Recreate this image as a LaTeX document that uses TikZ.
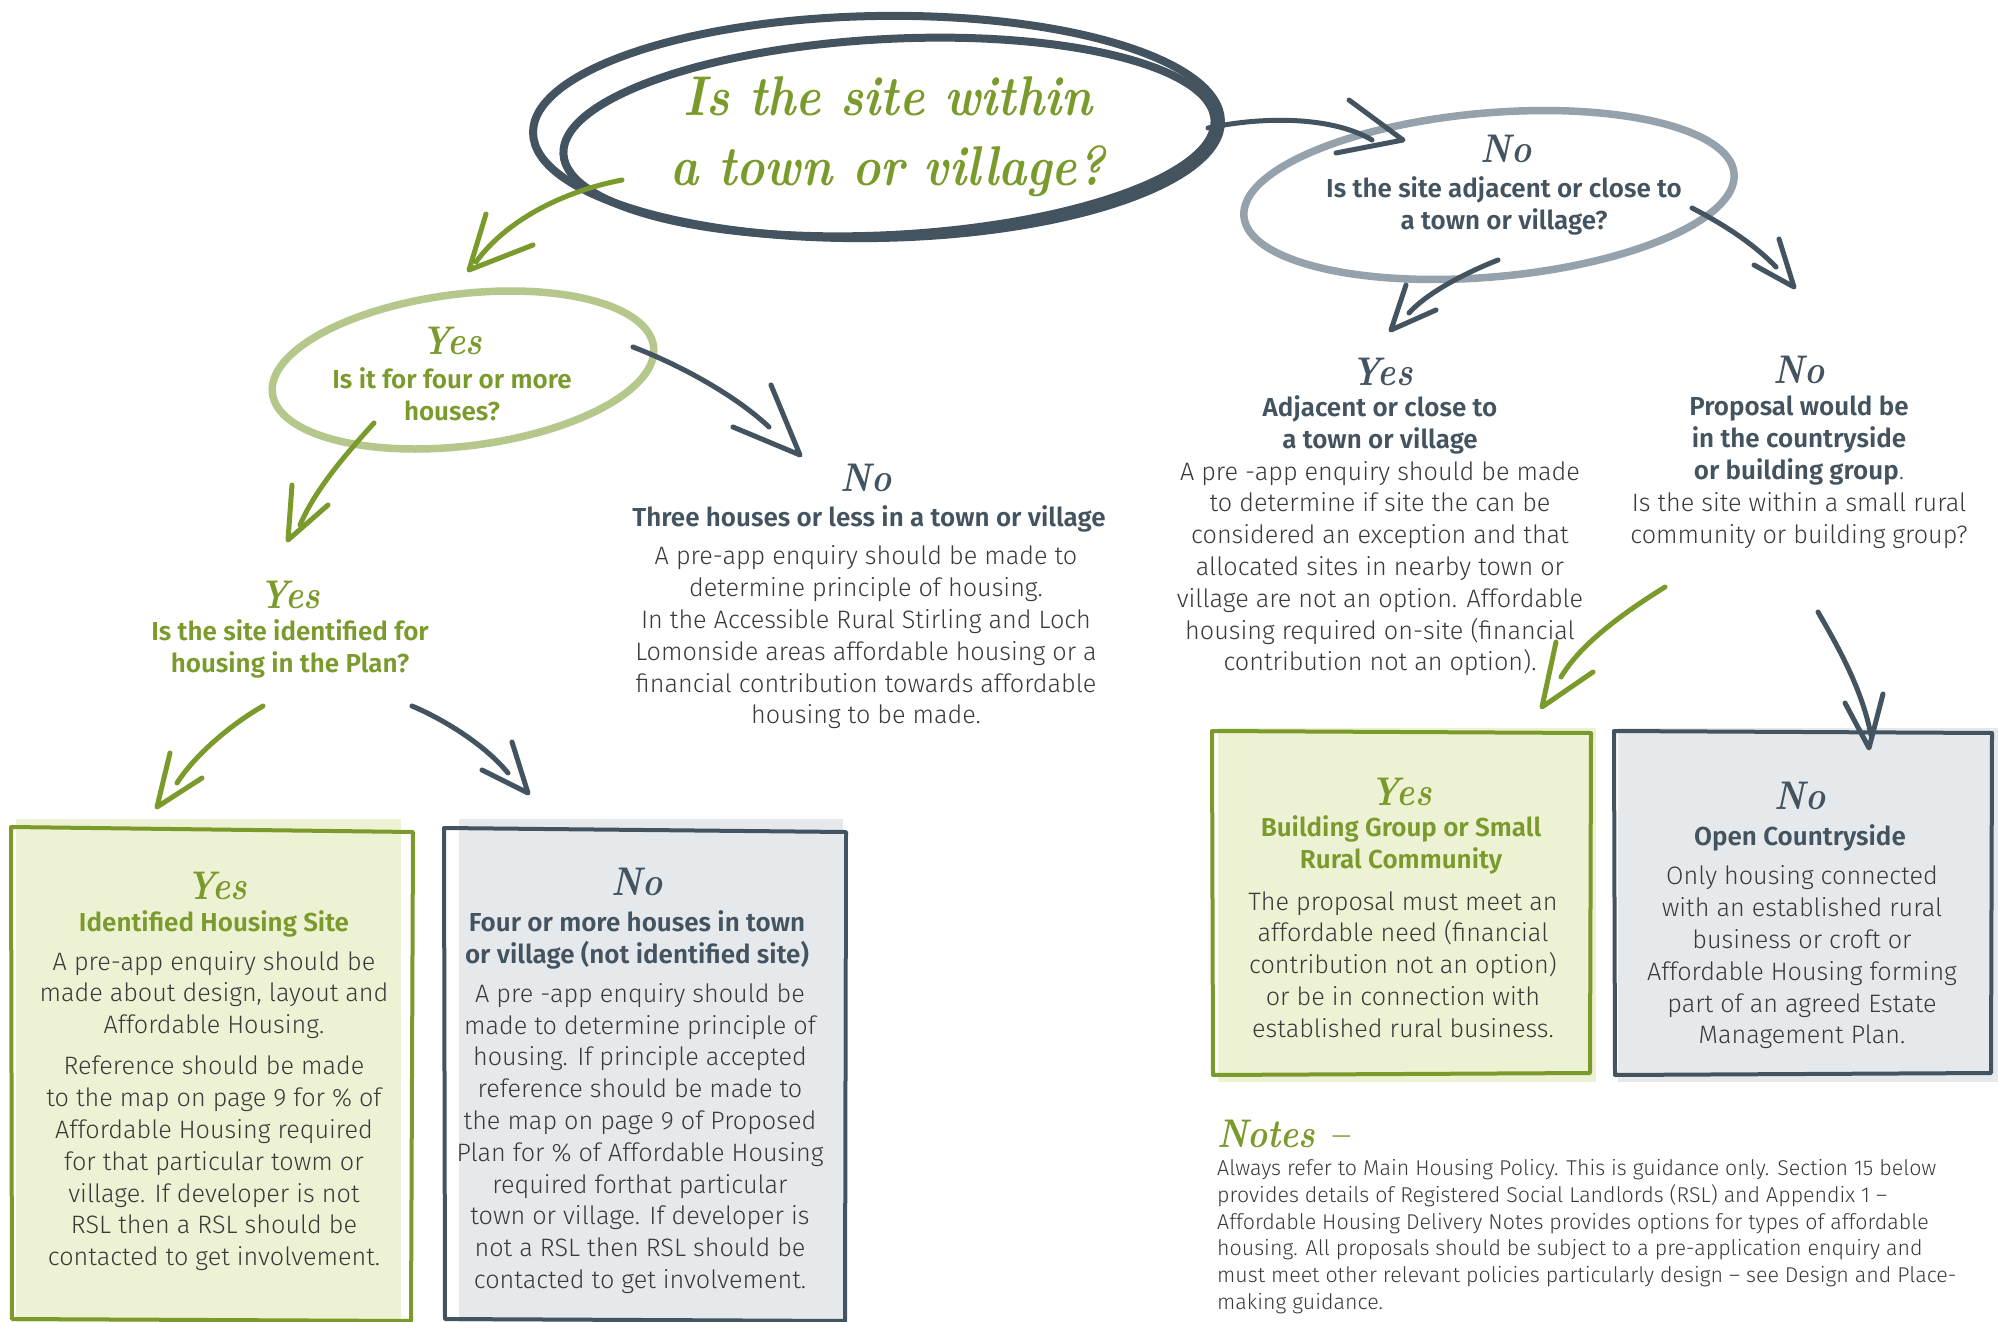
\documentclass[tikz,border=0pt]{standalone}
\usepackage{fontspec}
\usetikzlibrary{arrows.meta}
\IfFontExistsTF{Fira Sans Light}{\newfontfamily\bodyfont{Fira Sans Light}}{\newfontfamily\bodyfont{Fira Sans}}
\IfFontExistsTF{Fira Sans SemiBold}{\newfontfamily\headfont{Fira Sans SemiBold}}{\newfontfamily\headfont{Fira Sans Bold}}
\newfontfamily\handfont{lmroman10-bolditalic}[Extension=.otf, FakeStretch=0.85]
\definecolor{slate}{HTML}{435460}
\definecolor{leaf}{HTML}{7A9A2B}
\definecolor{leaflight}{HTML}{B5C78B}
\definecolor{greyring}{HTML}{95A2AC}
\definecolor{greenfill}{HTML}{EEF2D4}
\definecolor{greyfill}{HTML}{E5E9EC}
\definecolor{txt}{HTML}{3A3A3A}
\tikzset{
  bodytext/.style={font=\bodyfont\fontsize{25.2}{31.8}\selectfont, text=txt, align=center, inner sep=0pt},
  notetext/.style={font=\bodyfont\fontsize{21.4}{26.7}\selectfont, text=txt, align=left, inner sep=0pt},
  headg/.style={font=\headfont\fontsize{26}{32}\selectfont, text=leaf, align=center, inner sep=0pt},
  heads/.style={font=\headfont\fontsize{26}{32}\selectfont, text=slate, align=center, inner sep=0pt},
  handg/.style={font=\handfont\fontsize{40}{40}\selectfont, text=leaf, inner sep=0pt},
  hands/.style={font=\handfont\fontsize{40}{40}\selectfont, text=slate, inner sep=0pt},
  shaft/.style={line width=5pt, line cap=round},
  chev/.style={line width=5pt, line cap=round, line join=round},
  ringline/.style={line width=7.5pt},
  boxline/.style={line width=4pt, line join=round, line cap=round},
}
\begin{document}
\begin{tikzpicture}[x=1pt, y=-1pt]
\useasboundingbox (0,0) rectangle (1998,1322);
\fill[white] (0,0) rectangle (1998,1322);

% ---------- rings ----------
\begin{scope}[shift={(877,127)}, rotate=1]
  \draw[slate, line width=8pt] (0,0) ellipse [x radius=344, y radius=111];
\end{scope}
\begin{scope}[shift={(889,137)}, rotate=3]
  \draw[slate, line width=8pt] (0,0) ellipse [x radius=326, y radius=98];
\end{scope}
\begin{scope}[shift={(463,370)}, rotate=7]
  \draw[leaflight, ringline] (0,0) ellipse [x radius=192, y radius=76];
\end{scope}
\begin{scope}[shift={(1489,195)}, rotate=5]
  \draw[greyring, ringline] (0,0) ellipse [x radius=246, y radius=82];
\end{scope}

% ---------- boxes ----------
\fill[greenfill] (16,819) rectangle (401,1322);
\draw[leaf, boxline] (11,827) -- (413,832) -- (411,1321) -- (12,1319) -- cycle;
\fill[greyfill] (459,819) rectangle (843,1322);
\draw[slate, boxline] (444,828) -- (846,832) -- (845,1321) -- (445,1319) -- cycle;
\fill[greenfill] (1218,728) rectangle (1596,1082);
\draw[leaf, boxline] (1212,731) -- (1591,733) -- (1590,1073) -- (1213,1075) -- cycle;
\fill[greyfill] (1618,728) rectangle (1998,1082);
\draw[slate, boxline] (1614,731) -- (1992,733) -- (1991,1073) -- (1615,1075) -- cycle;

% ---------- texts ----------
\node[handg, font=\handfont\fontsize{56}{70}\selectfont, align=center] (q0) at (888,137) {Is the site within\\a town or village?};

\node[handg] (y1) at (452,341) {Yes};
\node[headg] (q1) at (452,394) {Is it for four or more\\houses?};

\node[hands] (n1) at (866,478) {No};
\node[heads] (h1) at (869,519) {Three houses or less in a town or village};
\node[bodytext] (b1) at (866,637.5) {A pre-app enquiry should be made to\\determine principle of housing.\\In the Accessible Rural Stirling and Loch\\Lomonside areas affordable housing or a\\financial contribution towards affordable\\housing to be made.};

\node[handg] (y2) at (290,595) {Yes};
\node[headg] (q2) at (290,649) {Is the site identified for\\housing in the Plan?};

\node[handg] (y3) at (217,886) {Yes};
\node[headg] (h3) at (214,924) {Identified Housing Site};
\node[bodytext] (b3a) at (214,995) {A pre-app enquiry should be\\made about design, layout and\\Affordable Housing.};
\node[bodytext] (b3b) at (214,1163.5) {Reference should be made\\to the map on page 9 for \% of\\Affordable Housing required\\for that particular towm or\\village. If developer is not\\RSL then a RSL should be\\contacted to get involvement.};

\node[hands] (n4) at (637,882) {No};
\node[heads] (h4) at (637,940) {Four or more houses in town\\or village (not identified site)};
\node[bodytext] (b4) at (640,1138.5) {A pre -app enquiry should be\\made to determine principle of\\housing. If principle accepted\\reference should be made to\\the map on page 9 of Proposed\\Plan for \% of Affordable Housing\\required forthat particular\\town or village. If developer is\\not a RSL then RSL should be\\contacted to get involvement.};

\node[hands] (n5) at (1506,149) {No};
\node[heads] (q5) at (1504,206) {Is the site adjacent or close to\\a town or village?};

\node[hands] (y6) at (1382,372) {Yes};
\node[heads] (h6) at (1380,425) {Adjacent or close to\\a town or village};
\node[bodytext] (b6) at (1380,568.5) {A pre -app enquiry should be made\\to determine if site the can be\\considered an exception and that\\allocated sites in nearby town or\\village are not an option. Affordable\\housing required on-site (financial\\contribution not an option).};

\node[hands] (n7) at (1799,370) {No};
\node[heads] (h7) at (1799,441) {Proposal would be\\in the countryside\\or building group{\bodyfont .}};
\node[bodytext] (b7) at (1799,520.5) {Is the site within a small rural\\community or building group?};

\node[handg] (y8) at (1401,792) {Yes};
\node[headg] (h8) at (1401,845) {Building Group or Small\\Rural Community};
\node[bodytext] (b8) at (1403,964.5) {The proposal must meet an\\affordable need (financial\\contribution not an option)\\or be in connection with\\established rural business.};

\node[hands] (n9) at (1800,796) {No};
\node[heads] (h9) at (1800,838) {Open Countryside};
\node[bodytext] (b9) at (1802,957.5) {Only housing connected\\with an established rural\\business or croft or\\Affordable Housing forming\\part of an agreed Estate\\Management Plan.};

\node[handg, anchor=west] (nt) at (1217,1134) {Notes –};
\node[notetext, anchor=west] (ntb) at (1217,1236.5) {Always refer to Main Housing Policy. This is guidance only. Section 15 below\\provides details of Registered Social Landlords (RSL) and Appendix 1 –\\Affordable Housing Delivery Notes provides options for types of affordable\\housing. All proposals should be subject to a pre-application enquiry and\\must meet other relevant policies particularly design – see Design and Place-\\making guidance.};

% ---------- arrows ----------
% main -> yes ring
\coordinate (a1s) at (622,180); \coordinate (a1e) at (476,262); \coordinate (a1t) at (469,270);
\coordinate (a1l) at (486,214); \coordinate (a1r) at (533,245);
\draw[leaf, shaft] (a1s) .. controls (560,192) and (505,222) .. (a1e);
\draw[leaf, chev] (a1l) -- (a1t) -- (a1r);
% yes ring -> q2
\coordinate (a2s) at (374,423); \coordinate (a2e) at (300,525); \coordinate (a2t) at (288,540);
\coordinate (a2l) at (292,485); \coordinate (a2r) at (328,505);
\draw[leaf, shaft] (a2s) .. controls (345,455) and (315,490) .. (a2e);
\draw[leaf, chev] (a2l) -- (a2t) -- (a2r);
% yes ring -> no three houses
\coordinate (a3s) at (633,347); \coordinate (a3e) at (769,427); \coordinate (a3t) at (800,455);
\coordinate (a3l) at (771,385); \coordinate (a3r) at (733,427);
\draw[slate, shaft] (a3s) .. controls (680,365) and (735,395) .. (a3e);
\draw[slate, chev] (a3l) -- (a3t) -- (a3r);
% q2 -> identified box
\coordinate (a4s) at (263,706); \coordinate (a4e) at (177,783); \coordinate (a4t) at (157,807);
\coordinate (a4l) at (170,753); \coordinate (a4r) at (202,778);
\draw[leaf, shaft] (a4s) .. controls (230,725) and (195,755) .. (a4e);
\draw[leaf, chev] (a4l) -- (a4t) -- (a4r);
% q2 -> four or more box
\coordinate (a5s) at (412,706); \coordinate (a5e) at (508,773); \coordinate (a5t) at (528,793);
\coordinate (a5l) at (512,742); \coordinate (a5r) at (482,770);
\draw[slate, shaft] (a5s) .. controls (445,720) and (485,745) .. (a5e);
\draw[slate, chev] (a5l) -- (a5t) -- (a5r);
% main -> no ring
\coordinate (a6s) at (1208,128); \coordinate (a6e) at (1372,140); \coordinate (a6t) at (1403,140);
\coordinate (a6l) at (1349,100); \coordinate (a6r) at (1336,153);
\draw[slate, shaft] (a6s) .. controls (1270,115) and (1335,118) .. (a6e);
\draw[slate, chev] (a6l) -- (a6t) -- (a6r);
% no ring -> yes adjacent
\coordinate (a7s) at (1498,260); \coordinate (a7e) at (1409,313); \coordinate (a7t) at (1391,330);
\coordinate (a7l) at (1406,285); \coordinate (a7r) at (1436,310);
\draw[slate, shaft] (a7s) .. controls (1460,275) and (1425,295) .. (a7e);
\draw[slate, chev] (a7l) -- (a7t) -- (a7r);
% no ring -> no proposal
\coordinate (a8s) at (1692,208); \coordinate (a8e) at (1776,267); \coordinate (a8t) at (1794,287);
\coordinate (a8l) at (1779,239); \coordinate (a8r) at (1754,265);
\draw[slate, shaft] (a8s) .. controls (1725,225) and (1755,245) .. (a8e);
\draw[slate, chev] (a8l) -- (a8t) -- (a8r);
% adjacent -> building group box
\coordinate (a9s) at (1665,587); \coordinate (a9e) at (1561,677); \coordinate (a9t) at (1542,707);
\coordinate (a9l) at (1556,642); \coordinate (a9r) at (1593,672);
\draw[leaf, shaft] (a9s) .. controls (1620,615) and (1580,645) .. (a9e);
\draw[leaf, chev] (a9l) -- (a9t) -- (a9r);
% proposal -> open countryside box
\coordinate (a10s) at (1818,612); \coordinate (a10e) at (1871,735); \coordinate (a10t) at (1869,748);
\coordinate (a10l) at (1845,703); \coordinate (a10r) at (1883,694);
\draw[slate, shaft] (a10s) .. controls (1840,650) and (1862,690) .. (a10e);
\draw[slate, chev] (a10l) -- (a10t) -- (a10r);
\end{tikzpicture}
\end{document}
